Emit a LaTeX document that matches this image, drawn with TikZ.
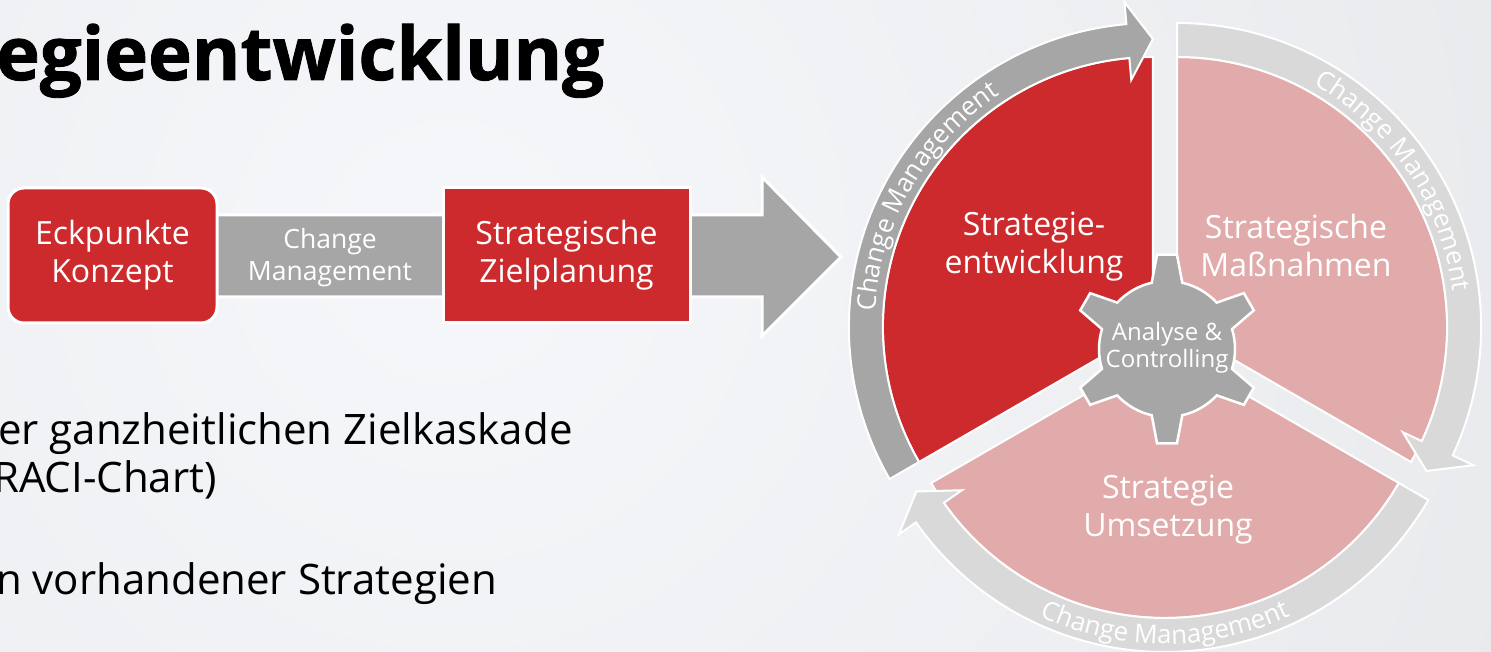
\documentclass[tikz,border=0pt]{standalone}
\usepackage{fontspec}
\setmainfont{Open Sans}
\newfontfamily\titlefont{Open Sans}[BoldFeatures={FakeBold=1.2}]
\usetikzlibrary{decorations.text}

\definecolor{cmRed}{HTML}{CD2A2D}
\definecolor{cmPink}{HTML}{E2ABAB}
\definecolor{cmGray}{HTML}{A6A6A6}
\definecolor{cmLight}{HTML}{D9D9D9}
\definecolor{bgIn}{HTML}{F5F7FA}
\definecolor{bgOut}{HTML}{E5E6E8}

\tikzset{
  redbox/.style={draw=white, line width=3pt, fill=cmRed, text=white, align=center, font=\fontsize{32}{38}\selectfont},
  sector/.style={draw=white, line width=2pt},
  ring/.style={draw=white, line width=2pt},
  ringtext/.style={decorate, decoration={text along path, text align=center, text color=white,
    text={|\fontsize{26}{26}\selectfont|Change Management}}},
  wheeltext/.style={text=white, align=center, font=\fontsize{32}{38}\selectfont},
  listtext/.style={anchor=base west, inner sep=0pt, font=\fontsize{42}{50}\selectfont},
}

\begin{document}
\begin{tikzpicture}[x=1pt,y=1pt]
\useasboundingbox (0,0) rectangle (1491,652);
\begin{scope}
\clip (0,0) rectangle (1491,652);
\shade[inner color=bgIn, outer color=bgOut] (450,400) circle (1500);
\end{scope}

\node[anchor=base west, inner sep=0pt, font=\fontsize{74}{74}\titlefont\bfseries] (title) at (-4,572) {egieentwicklung};

\node[listtext] (list1) at (-2,207) {er ganzheitlichen Zielkaskade};
\node[listtext] (list2) at (-7,159) {RACI-Chart)};
\node[listtext] (list3) at (-4,57) {n vorhandener Strategien};

% flow on the left
\path[fill=cmGray, draw=white, line width=3pt] (200,355) -- (762,355) -- (762,316) -- (841,395) -- (762,475) -- (762,437) -- (200,437) -- cycle;
\node[redbox, rounded corners=16pt, minimum width=209, minimum height=135] (eck) at (112.5,396.5) {Eckpunkte\\Konzept};
\node[redbox, minimum width=247, minimum height=135] (ziel) at (566.5,396.5) {Strategische\\Zielplanung};
\node[text=white, align=center, font=\fontsize{26.5}{32}\selectfont] (cm) at (330,394) {Change\\Management};

% wheel
\coordinate (mid) at (1165,318);
\coordinate (cRed) at ([shift={(150:14)}]mid);
\coordinate (cPink) at ([shift={(30:14)}]mid);
\coordinate (cDown) at ([shift={(270:14)}]mid);
\coordinate (gear) at (1167,303);

\path[sector, fill=cmRed] (cRed) -- ([shift={(cRed)}]90:270) arc[start angle=90, end angle=210, radius=270] -- cycle;
\path[sector, fill=cmPink] (cPink) -- ([shift={(cPink)}]90:270) arc[start angle=90, end angle=-30, radius=270] -- cycle;
\path[sector, fill=cmPink] (cDown) -- ([shift={(cDown)}]-30:270) arc[start angle=-30, end angle=-150, radius=270] -- cycle;

\path[ring, fill=cmGray] ([shift={(cRed)}]210:304) arc[start angle=210, end angle=95, radius=304]
  -- ([shift={(cRed)}]95:326) -- ([shift={(cRed)}]90:288) -- ([shift={(cRed)}]95:248)
  -- ([shift={(cRed)}]95:270) arc[start angle=95, end angle=210, radius=270] -- cycle;
\path[ring, fill=cmLight] ([shift={(cPink)}]90:304) arc[start angle=90, end angle=-25, radius=304]
  -- ([shift={(cPink)}]-25:327) -- ([shift={(cPink)}]-30:288) -- ([shift={(cPink)}]-25:249)
  -- ([shift={(cPink)}]-25:270) arc[start angle=-25, end angle=90, radius=270] -- cycle;
\path[ring, fill=cmLight] ([shift={(cDown)}]-30:304) arc[start angle=-30, end angle=-145, radius=304]
  -- ([shift={(cDown)}]-145:325) -- ([shift={(cDown)}]-150:287) -- ([shift={(cDown)}]-145:248)
  -- ([shift={(cDown)}]-145:270) arc[start angle=-145, end angle=-30, radius=270] -- cycle;

\path[ringtext] ([shift={(cRed)}]202:278) arc[start angle=202, end angle=98, radius=278];
\path[ringtext] ([shift={(cPink)}]86:278) arc[start angle=86, end angle=-18, radius=278];
\path[ringtext] ([shift={(cDown)}]220:296) arc[start angle=220, end angle=320, radius=296];

\path[draw=white, line width=2.5pt, fill=cmGray] ([shift={(gear)}]77:68)
  \foreach \a in {90,150,...,390} {
    -- ([shift={(gear)}]\a-6:95) -- ([shift={(gear)}]\a+6:95) -- ([shift={(gear)}]\a+13:68)
    arc[start angle=\a+13, end angle=\a+47, radius=68]
  } -- cycle;

\node[wheeltext] (dev) at (1034,405) {Strategie-\\entwicklung};
\node[wheeltext] (mass) at (1296,406) {Strategische\\Maßnahmen};
\node[wheeltext] (ums) at (1168,142) {Strategie\\Umsetzung};
\node[text=white, align=center, font=\fontsize{24}{27}\selectfont] (ctrl) at (1167,304) {Analyse \&\\Controlling};
\end{tikzpicture}
\end{document}
